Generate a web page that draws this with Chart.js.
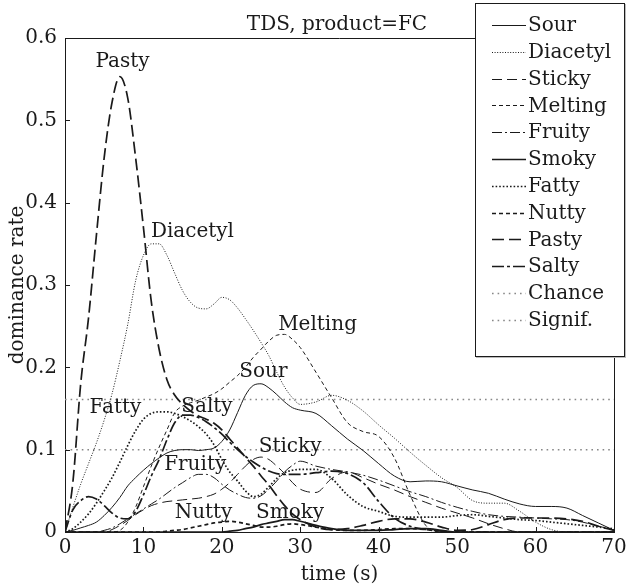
<!DOCTYPE html>
<html>
<head>
<meta charset="utf-8">
<script src="https://cdn.jsdelivr.net/npm/chart.js@4/dist/chart.umd.min.js"></script>
<style>
html,body{margin:0;padding:0;background:#fff;}
#c{display:block;}
</style>
</head>
<body>
<canvas id="c" width="627" height="587" style="width:627px;height:587px"></canvas>
<script>
// ---- data ----
const time = [0,1,2,3,4,5,6,7,8,9,10,11,12,13,14,15,16,17,18,19,20,21,22,23,24,25,26,27,28,29,30,
  32,34,36,38,40,42,44,46,48,50,52,54,56,58,60,62,64,66,68,70];

const sour = [0,0.002,0.005,0.008,0.012,0.02,0.03,0.042,0.056,0.066,0.075,0.083,0.09,0.096,0.099,0.1,0.1,0.099,0.1,0.102,0.11,0.124,0.145,0.166,0.178,0.18,0.175,0.167,0.158,0.151,0.148,
  0.144,0.129,0.113,0.099,0.083,0.068,0.061,0.062,0.061,0.056,0.051,0.047,0.04,0.034,0.031,0.031,0.029,0.02,0.011,0.002];
const diacetyl = [0,0.03,0.058,0.083,0.108,0.136,0.168,0.208,0.252,0.305,0.336,0.35,0.35,0.336,0.314,0.293,0.279,0.272,0.271,0.277,0.285,0.282,0.272,0.259,0.245,0.23,0.214,0.194,0.176,0.163,0.155,
  0.158,0.166,0.16,0.147,0.13,0.114,0.097,0.081,0.066,0.054,0.038,0.035,0.035,0.025,0.012,0.003,0,0,0,0];
const sticky = [0,0,0,0,0,0,0.003,0.008,0.014,0.021,0.027,0.032,0.035,0.037,0.038,0.039,0.04,0.041,0.043,0.046,0.052,0.06,0.07,0.08,0.088,0.091,0.088,0.08,0.071,0.06,0.052,
  0.048,0.065,0.073,0.066,0.058,0.051,0.043,0.036,0.029,0.023,0.017,0.01,0.004,0,0,0,0,0,0,0];
const melting = [0,0,0,0,0,0,0,0.002,0.012,0.03,0.055,0.08,0.103,0.124,0.145,0.153,0.157,0.16,0.164,0.168,0.174,0.182,0.19,0.2,0.212,0.222,0.232,0.239,0.24,0.234,0.224,
  0.194,0.163,0.133,0.122,0.116,0.09,0.045,0.008,0,0,0,0,0,0,0,0,0,0,0,0];
const fruity = [0,0,0,0,0,0.002,0.005,0.01,0.016,0.022,0.028,0.034,0.04,0.047,0.054,0.06,0.066,0.07,0.07,0.066,0.058,0.051,0.046,0.042,0.041,0.044,0.052,0.062,0.073,0.081,0.086,
  0.08,0.076,0.073,0.069,0.063,0.056,0.049,0.043,0.036,0.03,0.025,0.021,0.019,0.018,0.017,0.016,0.015,0.012,0.007,0.003];
const smoky = [0,0,0,0,0,0,0,0,0,0,0,0,0,0,0,0,0,0,0,0,0,0.001,0.002,0.004,0.006,0.009,0.011,0.013,0.015,0.015,0.013,
  0.008,0.004,0.002,0.002,0.002,0.003,0.004,0.004,0.002,0,0,0,0,0,0,0,0,0,0,0];
const fatty = [0,0.004,0.012,0.022,0.035,0.05,0.066,0.085,0.105,0.123,0.137,0.144,0.146,0.146,0.144,0.14,0.135,0.128,0.119,0.106,0.088,0.073,0.062,0.05,0.043,0.046,0.055,0.065,0.072,0.075,0.076,
  0.076,0.065,0.045,0.031,0.025,0.019,0.018,0.018,0.018,0.02,0.021,0.019,0.017,0.015,0.014,0.012,0.01,0.008,0.006,0.004];
const nutty = [0,0,0,0,0,0,0,0,0,0,0,0,0,0.001,0.002,0.003,0.005,0.007,0.009,0.011,0.012,0.013,0.012,0.01,0.008,0.006,0.006,0.007,0.009,0.01,0.009,
  0.006,0.003,0.002,0.002,0.003,0.004,0.004,0.003,0.001,0,0,0,0,0,0,0,0,0,0,0];
const pasty = [0,0.06,0.18,0.26,0.36,0.455,0.522,0.553,0.527,0.455,0.37,0.28,0.222,0.185,0.166,0.155,0.147,0.141,0.137,0.132,0.124,0.113,0.102,0.091,0.08,0.068,0.057,0.044,0.032,0.022,0.015,
  0.006,0.003,0.004,0.008,0.013,0.016,0.016,0.012,0.006,0.002,0.003,0.009,0.015,0.017,0.017,0.017,0.016,0.013,0.007,0.002];
const salty = [0,0.027,0.038,0.043,0.04,0.032,0.023,0.017,0.016,0.025,0.045,0.068,0.088,0.112,0.133,0.142,0.142,0.139,0.134,0.127,0.119,0.109,0.1,0.092,0.085,0.079,0.074,0.071,0.07,0.07,0.07,
  0.072,0.074,0.071,0.06,0.037,0.017,0.007,0.003,0.001,0,0,0,0,0,0,0,0,0,0,0];

const chanceLevel = 0.1;
const signifLevel = 0.161;

const seriesNames = ["Sour","Diacetyl","Sticky","Melting","Fruity","Smoky","Fatty","Nutty","Pasty","Salty"];
const seriesValues = [sour,diacetyl,sticky,melting,fruity,smoky,fatty,nutty,pasty,salty];

const xTicks = [0,10,20,30,40,50,60,70];
const yTicks = [0,0.1,0.2,0.3,0.4,0.5,0.6];

// in-plot labels (data coordinates)
const labelTexts = ["Pasty","Diacetyl","Melting","Sour","Fatty","Salty","Sticky","Fruity","Nutty","Smoky"];
const labelT = [7.33,16.25,32.2,25.3,6.44,18.1,28.7,16.6,17.66,28.7];
const labelV = [0.5645,0.3585,0.245,0.188,0.1445,0.1458,0.0972,0.0754,0.017,0.017];

// ---- styles ----
const INK = '#1a1a1a';
const styles = [
  {w:1.0, dash:[]},            // Sour
  {w:1.0, dash:[1,1.6]},       // Diacetyl
  {w:1.0, dash:[10,5]},        // Sticky
  {w:1.0, dash:[4,3]},         // Melting
  {w:1.0, dash:[10,3,2,3]},    // Fruity
  {w:1.7, dash:[]},            // Smoky
  {w:1.7, dash:[1.6,2]},       // Fatty
  {w:1.7, dash:[4,3]},         // Nutty
  {w:1.7, dash:[12,5]},        // Pasty
  {w:1.7, dash:[12,3,3,3]}     // Salty
];
const refStyle = {w:1.5, dash:[1.6,4], color:'#888'};

const FONT = {family:'"DejaVu Serif", serif', size:20};

const datasets = seriesValues.map((vals, i) => ({
  label: seriesNames[i],
  data: time.map((t, k) => ({x:t, y:vals[k]})),
  borderColor: INK,
  borderWidth: styles[i].w,
  borderDash: styles[i].dash,
  pointRadius: 0,
  fill: false,
  cubicInterpolationMode: 'monotone'
}));
datasets.push({label:'Chance', data:[{x:time[0],y:chanceLevel},{x:time[time.length-1],y:chanceLevel}],
  borderColor:refStyle.color, borderWidth:refStyle.w, borderDash:refStyle.dash, pointRadius:0, fill:false});
datasets.push({label:'Signif.', data:[{x:time[0],y:signifLevel},{x:time[time.length-1],y:signifLevel}],
  borderColor:refStyle.color, borderWidth:refStyle.w, borderDash:refStyle.dash, pointRadius:0, fill:false});

const decor = {
  id: 'decor',
  afterDraw(chart) {
    const ctx = chart.ctx;
    const a = chart.chartArea;
    const xs = chart.scales.x, ys = chart.scales.y;
    ctx.save();
    // top/right frame
    ctx.strokeStyle = INK; ctx.lineWidth = 1; ctx.setLineDash([]);
    ctx.beginPath();
    ctx.moveTo(a.left, a.top + 0.5); ctx.lineTo(a.right, a.top + 0.5);
    ctx.moveTo(a.right + 0.5, a.top); ctx.lineTo(a.right + 0.5, a.bottom);
    ctx.stroke();
    // inward ticks
    ctx.beginPath();
    xTicks.forEach(t => { const px = Math.round(xs.getPixelForValue(t)) + 0.5; ctx.moveTo(px, a.bottom); ctx.lineTo(px, a.bottom - 5); });
    yTicks.forEach(v => { const py = Math.round(ys.getPixelForValue(v)) + 0.5; ctx.moveTo(a.left, py); ctx.lineTo(a.left + 5, py); });
    ctx.stroke();
    // labels
    ctx.fillStyle = INK;
    ctx.font = '20px "DejaVu Serif", serif';
    ctx.textAlign = 'center'; ctx.textBaseline = 'alphabetic';
    labelTexts.forEach((s, i) => {
      ctx.fillText(s, xs.getPixelForValue(labelT[i]), ys.getPixelForValue(labelV[i]));
    });
    // title
    ctx.fillText('TDS, product=FC', 337, 30);
    // legend box
    const lx = 475, ly = 3, lw = 150, lh = 354;
    ctx.fillStyle = '#bbb';
    ctx.fillRect(lx + 1, ly + 1, lw, lh);
    ctx.fillStyle = '#fff';
    ctx.fillRect(lx, ly, lw, lh);
    ctx.strokeStyle = INK; ctx.lineWidth = 1;
    ctx.strokeRect(lx + 0.5, ly + 0.5, lw - 1, lh - 1);
    const names = seriesNames.concat(['Chance','Signif.']);
    const st = styles.concat([refStyle, refStyle]);
    ctx.textAlign = 'left'; ctx.textBaseline = 'middle';
    names.forEach((n, i) => {
      const cy = 25 + 26.8 * i;
      ctx.strokeStyle = st[i].color || INK;
      ctx.lineWidth = st[i].w;
      ctx.setLineDash(st[i].dash);
      ctx.beginPath(); ctx.moveTo(492, Math.round(cy) + 0.5); ctx.lineTo(526, Math.round(cy) + 0.5); ctx.stroke();
      ctx.fillStyle = INK;
      ctx.fillText(n, 528, cy + 1);
    });
    ctx.restore();
  }
};

new Chart(document.getElementById('c'), {
  type: 'line',
  data: {datasets},
  options: {
    responsive: false,
    animation: false,
    layout: {padding: {left: 0, right: 13, top: 38, bottom: 0}},
    plugins: {legend: {display: false}, tooltip: {enabled: false}, title: {display: false}},
    scales: {
      x: {
        type: 'linear', min: 0, max: 70,
        afterBuildTicks: s => { s.ticks = xTicks.map(v => ({value: v})); },
        ticks: {font: FONT, color: INK, padding: 4, maxRotation: 0, autoSkip: false},
        grid: {display: false, drawTicks: false},
        border: {display: true, color: INK, width: 1},
        title: {display: true, text: 'time (s)', font: FONT, color: INK, padding: {top: 0, bottom: 0}},
        afterFit: s => { s.height = 55; s.paddingLeft = 0; s.paddingRight = 0; }
      },
      y: {
        type: 'linear', min: 0, max: 0.6,
        afterBuildTicks: s => { s.ticks = yTicks.map(v => ({value: v})); },
        ticks: {font: FONT, color: INK, padding: 8, callback: v => v === 0 ? '0' : v.toFixed(1)},
        grid: {display: false, drawTicks: false},
        border: {display: true, color: INK, width: 1},
        title: {display: true, text: 'dominance rate', font: FONT, color: INK, padding: {top: 6, bottom: 0}},
        afterFit: s => { s.width = 65; s.paddingTop = 0; s.paddingBottom = 0; }
      }
    }
  },
  plugins: [decor]
});
</script>
</body>
</html>
